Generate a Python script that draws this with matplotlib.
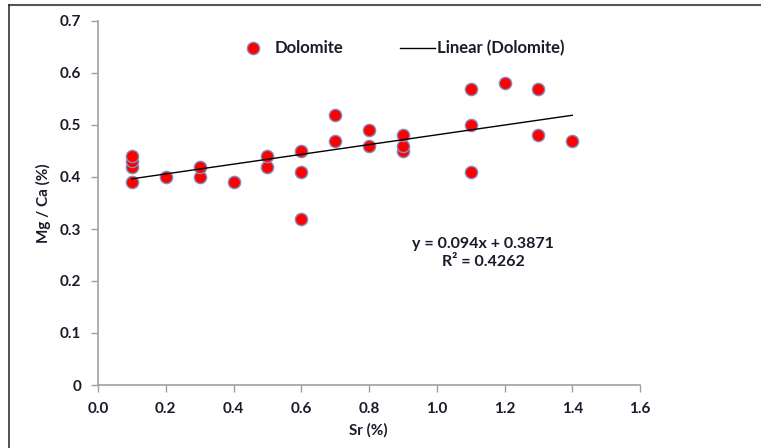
import matplotlib
matplotlib.use("Agg")
import matplotlib.pyplot as plt
from matplotlib.lines import Line2D
import numpy as np

plt.rcParams['font.family'] = ['Lato', 'DejaVu Sans']

# Sr (%) vs Mg / Ca (%) for dolomite samples
sr = [0.1, 0.1, 0.1, 0.1, 0.2, 0.3, 0.3, 0.4, 0.5, 0.5,
      0.6, 0.6, 0.6, 0.7, 0.7, 0.8, 0.8, 0.9, 0.9, 0.9,
      1.1, 1.1, 1.1, 1.2, 1.3, 1.3, 1.4]
mgca = [0.39, 0.42, 0.43, 0.44, 0.40, 0.40, 0.42, 0.39, 0.42, 0.44,
        0.32, 0.41, 0.45, 0.47, 0.52, 0.46, 0.49, 0.45, 0.46, 0.48,
        0.41, 0.50, 0.57, 0.58, 0.48, 0.57, 0.47]

slope = 0.094
intercept = 0.3871
r2 = 0.4262

xticks_v = [0.0, 0.2, 0.4, 0.6, 0.8, 1.0, 1.2, 1.4, 1.6]
yticks_v = [0, 0.1, 0.2, 0.3, 0.4, 0.5, 0.6, 0.7]
ytick_labels = ['0', '0.1', '0.2', '0.3', '0.4', '0.5', '0.6', '0.7']

TXT = '#1a1a2a'
W, H = 761, 448
fig = plt.figure(figsize=(W / 100, H / 100), dpi=100)
ax = fig.add_axes([98 / W, 1 - 385 / H, (640 - 98) / W, (385 - 21) / H])

# outer chart border (top and left edges visible)
fig.add_artist(Line2D([9 / W, 1], [1 - 5 / H, 1 - 5 / H], color='#555555', lw=1.5))
fig.add_artist(Line2D([9 / W, 9 / W], [0, 1 - 5 / H], color='#333333', lw=1.2))

ax.scatter(sr, mgca, s=78, color='#ff0000', edgecolors='#7f8fbf', linewidths=1.0, zorder=3)

xs = np.array([min(sr), max(sr)])
ax.plot(xs, slope * xs + intercept, color='black', lw=1.0, zorder=4)

ax.set_xlim(0, 1.6)
ax.set_ylim(0, 0.7)
ax.set_xticks(xticks_v)
ax.set_xticklabels(['%.1f' % v for v in xticks_v])
ax.set_yticks(yticks_v)
ax.set_yticklabels(ytick_labels)

for s in ['top', 'right']:
    ax.spines[s].set_visible(False)
for s in ['left', 'bottom']:
    ax.spines[s].set_color('#a0a0a0')
    ax.spines[s].set_linewidth(1.2)
ax.tick_params(axis='both', colors='#a0a0a0', length=5, width=1.0, direction='out',
               labelsize=11, labelcolor=TXT, pad=7)
for lab in ax.get_xticklabels() + ax.get_yticklabels():
    lab.set_fontweight('bold')

# legend, axis titles and equation placed by pixel position of the reference
def ax_xy(px, py):
    return (px - 98) / (640 - 98), 1 - (py - 21) / (385 - 21)

sx, sy = ax_xy(368, 430)
ax.text(sx, sy, 'Sr (%)', transform=ax.transAxes, fontsize=11, fontweight='bold',
        color=TXT, ha='center', va='center')
yx, yy = ax_xy(43, 203)
ax.text(yx, yy, 'Mg / Ca (%)', transform=ax.transAxes, fontsize=11, fontweight='bold',
        color=TXT, ha='center', va='center', rotation=90)

mx, my = ax_xy(253, 48)
ax.scatter([mx], [my], s=78, color='#ff0000', edgecolors='#7f8fbf', linewidths=1.0,
           transform=ax.transAxes, clip_on=False, zorder=5)
tx, ty = ax_xy(275, 48)
ax.text(tx, ty, 'Dolomite', transform=ax.transAxes, fontsize=12, fontweight='bold',
        color=TXT, va='center', ha='left')
l0x, _ = ax_xy(400, 48)
l1x, _ = ax_xy(435, 48)
ax.plot([l0x, l1x], [my, my], color='black', lw=1.0, transform=ax.transAxes, clip_on=False)
tx2, _ = ax_xy(437, 48)
ax.text(tx2, ty, 'Linear (Dolomite)', transform=ax.transAxes, fontsize=12, fontweight='bold',
        color=TXT, va='center', ha='left')

ex, ey = ax_xy(483, 253)
ax.text(ex, ey, 'y = %.3fx + %.4f\nR² = %.4f' % (slope, intercept, r2),
        transform=ax.transAxes, fontsize=11.5, fontweight='bold', color=TXT,
        ha='center', va='center', linespacing=1.3)

fig.savefig('out.png', dpi=100)
